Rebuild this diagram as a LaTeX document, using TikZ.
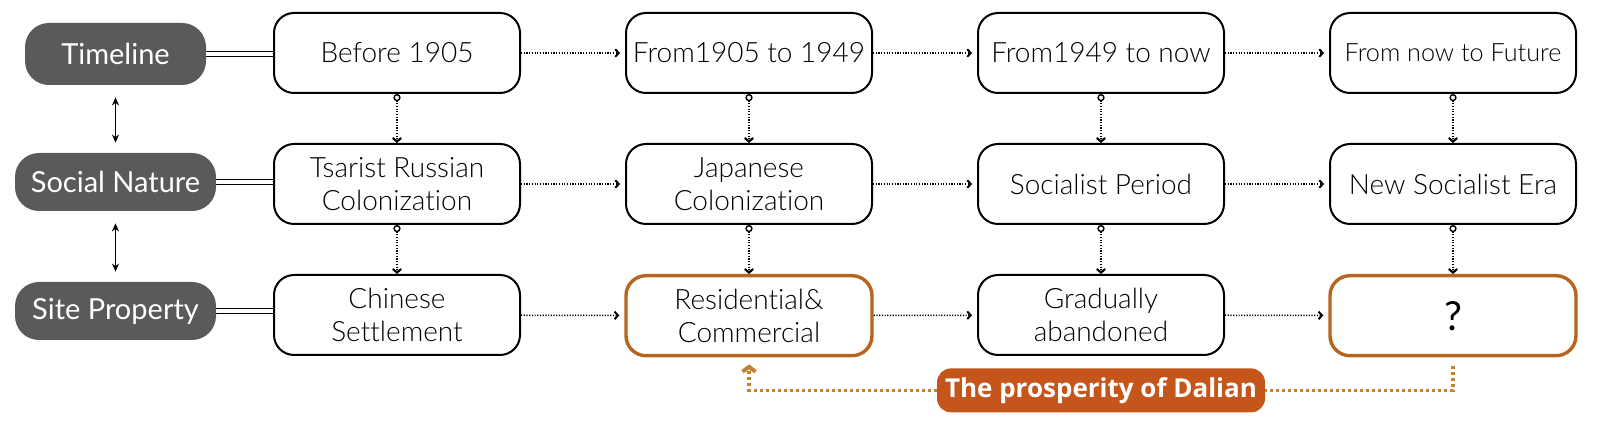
\documentclass[tikz,border=0pt]{standalone}
\usepackage{fontspec}
\setmainfont{Lato Light}[Ligatures=NoCommon]
\newfontfamily\tagfont{Lato}[Ligatures=NoCommon]
\newfontfamily\notefont{Open Sans}
\usepackage{xcolor}
\usetikzlibrary{arrows.meta, positioning}

\definecolor{tagGrey}{HTML}{5A5A5A}
\definecolor{boxOrange}{HTML}{B5651D}
\definecolor{noteOrange}{HTML}{C5561B}
\definecolor{lineOrange}{HTML}{C3822F}

\begin{document}
\begin{tikzpicture}[
  x=0.5pt, y=-0.5pt,
  font=\fontsize{14}{16.5}\selectfont,
  tag/.style={fill=tagGrey, text=white, font=\tagfont\fontsize{14.5}{17}\selectfont,
              rounded corners=12pt, minimum height=29pt, inner sep=0pt},
  era/.style={draw, line width=1pt, rounded corners=10pt, align=center,
              minimum width=123pt, minimum height=40pt, inner sep=2pt},
  hot/.style={era, draw=boxOrange, line width=1.7pt},
  note/.style={fill=noteOrange, text=white, rounded corners=7pt,
               font=\notefont\bfseries\fontsize{13}{15}\selectfont,
               minimum width=164pt, minimum height=22pt, inner sep=0pt},
  link/.style={double, double distance=1.6pt, line width=0.6pt},
  both/.style={{Stealth[length=4pt, width=3.5pt]}-{Stealth[length=4pt, width=3.5pt]},
               line width=0.8pt, shorten <=6pt, shorten >=5pt},
  flow/.style={-{Straight Barb[length=1.7pt, width=3.8pt, line width=1pt]},
               line width=0.75pt, dash pattern=on 0.6pt off 0.75pt, shorten >=2.5pt},
  drop/.style={{Circle[open, fill=white, length=3.6pt, line width=0.7pt]}-{Straight Barb[length=1.8pt, width=4.2pt, line width=1.1pt]},
               line width=0.75pt, dash pattern=on 0.6pt off 0.75pt},
  back/.style={lineOrange, line width=1.6pt, dash pattern=on 1.4pt off 1.6pt},
  node distance=24.5pt and 52pt,
]
\useasboundingbox (0,0) rectangle (1612,426);

% time columns
\node[era] (b1) at (397,53) {Before 1905};
\node[era, right=of b1] (b2) {From1905 to 1949};
\node[era, right=of b2] (b3) {From1949 to now};
\node[era, right=of b3, font=\fontsize{12.6}{15}\selectfont] (b4) {From now to Future};

\node[era, below=of b1] (s1) {Tsarist Russian\\Colonization};
\node[era, below=of b2] (s2) {Japanese\\Colonization};
\node[era, below=of b3] (s3) {Socialist Period};
\node[era, below=of b4] (s4) {New Socialist Era};

\node[era, below=of s1] (p1) {Chinese\\Settlement};
\node[hot, below=of s2] (p2) {Residential\&\\Commercial};
\node[era, below=of s3] (p3) {Gradually\\abandoned};
\node[hot, below=of s4, font=\tagfont\fontsize{20}{22}\selectfont] (p4) {?};

% row tags
\node[tag, minimum width=90.5pt, minimum height=31pt] (tl) at (115.5,54) {Timeline};
\node[tag, minimum width=100.5pt] (sn) at (115.5,182) {Social Nature};
\node[tag, minimum width=100.5pt] (sp) at (115.5,311) {Site Property};

\node[note, below=6pt of p3] (pr) {The prosperity of Dalian};

\draw[link] (tl.east) -- (tl.east -| b1.west);
\draw[link] (sn.east) -- (sn.east -| s1.west);
\draw[link] (sp.east) -- (sp.east -| p1.west);
\draw[both] (tl) -- (sn);
\draw[both] (sn) -- (sp);

\draw[flow] (b1) -- (b2); \draw[flow] (b2) -- (b3); \draw[flow] (b3) -- (b4);
\draw[flow] (s1) -- (s2); \draw[flow] (s2) -- (s3); \draw[flow] (s3) -- (s4);
\draw[flow] (p1) -- (p2); \draw[flow] (p2) -- (p3); \draw[flow] (p3) -- (p4);

\draw[drop] (b1) -- (s1); \draw[drop] (b2) -- (s2);
\draw[drop] (b3) -- (s3); \draw[drop] (b4) -- (s4);
\draw[drop] (s1) -- (p1); \draw[drop] (s2) -- (p2);
\draw[drop] (s3) -- (p3); \draw[drop] (s4) -- (p4);

% feedback to the present
\draw[back, -{Straight Barb[length=2.4pt, width=6.5pt, line width=2pt]}, shorten >=3.5pt]
  (pr.west) -| (p2.south);
\draw[back, shorten <=4.5pt] (p4.south) |- (pr.east);
\end{tikzpicture}
\end{document}
